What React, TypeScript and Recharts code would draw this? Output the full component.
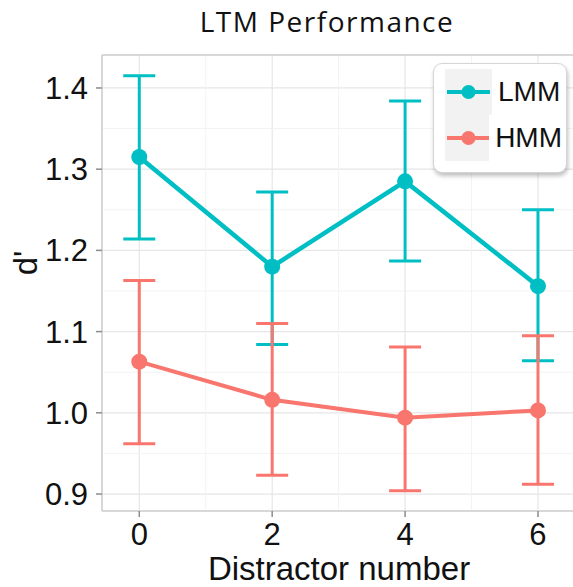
import {
  LineChart,
  Line,
  XAxis,
  YAxis,
  CartesianGrid,
  ErrorBar,
  ReferenceLine,
  Legend,
} from "recharts";

const distractors = [0, 2, 4, 6];
const lmmMean = [1.315, 1.18, 1.285, 1.156];
const lmmLow = [1.214, 1.084, 1.187, 1.064];
const lmmHigh = [1.415, 1.272, 1.384, 1.25];
const hmmMean = [1.063, 1.016, 0.994, 1.003];
const hmmLow = [0.962, 0.923, 0.904, 0.912];
const hmmHigh = [1.163, 1.11, 1.081, 1.095];

const yTicks = [0.9, 1.0, 1.1, 1.2, 1.3, 1.4];
const yMinor = [0.95, 1.05, 1.15, 1.25, 1.35];
const xTicks = [0, 2, 4, 6];
const xMinor = [1, 3, 5];

const LMM = "#00BFC4";
const HMM = "#F8766D";
const FONT = "'Liberation Sans', Arial, sans-serif";

const data = distractors.map((x, i) => ({
  x,
  lmm: lmmMean[i],
  lmmErr: [lmmMean[i] - lmmLow[i], lmmHigh[i] - lmmMean[i]],
  hmm: hmmMean[i],
  hmmErr: [hmmMean[i] - hmmLow[i], hmmHigh[i] - hmmMean[i]],
}));

const series = [
  { name: "LMM", color: LMM },
  { name: "HMM", color: HMM },
];

const LegendBox = () => (
  <div
    style={{
      background: "#fff",
      border: "1px solid #d6d6d6",
      borderRadius: 9,
      boxShadow: "1px 3px 4px rgba(0,0,0,0.25)",
      padding: "5px 4px 11px 11px",
      width: 117,
    }}
  >
    {series.map((s) => (
      <div key={s.name} style={{ display: "flex", alignItems: "center" }}>
        <svg width={47} height={46} style={{ display: "block" }}>
          <rect width={47} height={46} fill="#f2f2f2" />
          <line x1={2} y1={23} x2={45} y2={23} stroke={s.color} strokeWidth={4} />
          <circle cx={23.5} cy={23} r={7} fill={s.color} />
        </svg>
        <span
          style={{
            fontFamily: FONT,
            fontSize: 28,
            color: "#111",
            marginLeft: 6,
          }}
        >
          {s.name}
        </span>
      </div>
    ))}
  </div>
);

const App = () => {
  return (
    <div
      style={{
        position: "absolute",
        left: 0,
        top: 0,
        width: 573,
        height: 587,
        overflow: "hidden",
        background: "#fff",
      }}
    >
      <div
        style={{
          position: "absolute",
          top: 2,
          left: 102,
          width: 450,
          textAlign: "center",
          fontFamily: "'Open Sans', sans-serif",
          fontSize: 28,
          letterSpacing: 1.5,
          color: "#111",
          whiteSpace: "nowrap",
        }}
      >
        LTM Performance
      </div>
      <LineChart
        width={576}
        height={587}
        data={data}
        margin={{ top: 55, right: 0, bottom: 0, left: 0 }}
      >
        <CartesianGrid stroke="#e6e6e6" strokeWidth={1.2} />
        {yMinor.map((v) => (
          <ReferenceLine key={"y" + v} y={v} stroke="#f3f3f3" strokeWidth={1} />
        ))}
        {xMinor.map((v) => (
          <ReferenceLine key={"x" + v} x={v} stroke="#f3f3f3" strokeWidth={1} />
        ))}
        <ReferenceLine y={1.4406} stroke="#cfcfcf" strokeWidth={1.5} />
        <XAxis
          dataKey="x"
          type="number"
          domain={[-0.561, 6.572]}
          ticks={xTicks}
          allowDataOverflow
          height={76}
          tickSize={6}
          tickMargin={6}
          axisLine={{ stroke: "#cfcfcf", strokeWidth: 1.5 }}
          tickLine={{ stroke: "#8c8c8c", strokeWidth: 1.5 }}
          tick={{ fill: "#111", fontSize: 31, fontFamily: FONT }}
          label={{
            value: "Distractor number",
            position: "insideBottom",
            offset: 7,
            fill: "#111",
            fontSize: 33,
            fontFamily: FONT,
          }}
        />
        <YAxis
          type="number"
          domain={[0.8791, 1.4406]}
          ticks={yTicks}
          allowDataOverflow
          width={102}
          tickSize={6}
          tickMargin={8}
          tickFormatter={(v: number) => v.toFixed(1)}
          axisLine={{ stroke: "#cfcfcf", strokeWidth: 1.5 }}
          tickLine={{ stroke: "#8c8c8c", strokeWidth: 1.5 }}
          tick={{ fill: "#111", fontSize: 31, fontFamily: FONT }}
          label={{
            content: (props: any) => {
              const vb = props.viewBox || { x: 0, y: 55, height: 456 };
              const cx = 37;
              const cy = vb.y + vb.height / 2 - 20;
              return (
                <text
                  x={cx}
                  y={cy}
                  transform={`rotate(-90 ${cx} ${cy})`}
                  textAnchor="middle"
                  fill="#111"
                  fontSize={33}
                  fontFamily={FONT}
                >
                  d'
                </text>
              );
            },
          }}
        />
        <Legend
          layout="vertical"
          align="center"
          verticalAlign="middle"
          wrapperStyle={{ position: "absolute", left: 433, top: 63, width: "auto" }}
          content={() => <LegendBox />}
        />
        <Line
          dataKey="lmm"
          stroke={LMM}
          strokeWidth={4.5}
          dot={{ r: 8, fill: LMM, stroke: LMM, strokeWidth: 0 }}
          activeDot={false}
          isAnimationActive={false}
        >
          <ErrorBar dataKey="lmmErr" direction="y" width={16} stroke={LMM} strokeWidth={3} />
        </Line>
        <Line
          dataKey="hmm"
          stroke={HMM}
          strokeWidth={4}
          dot={{ r: 8, fill: HMM, stroke: HMM, strokeWidth: 0 }}
          activeDot={false}
          isAnimationActive={false}
        >
          <ErrorBar dataKey="hmmErr" direction="y" width={16} stroke={HMM} strokeWidth={3} />
        </Line>
      </LineChart>
    </div>
  );
};

export default App;
